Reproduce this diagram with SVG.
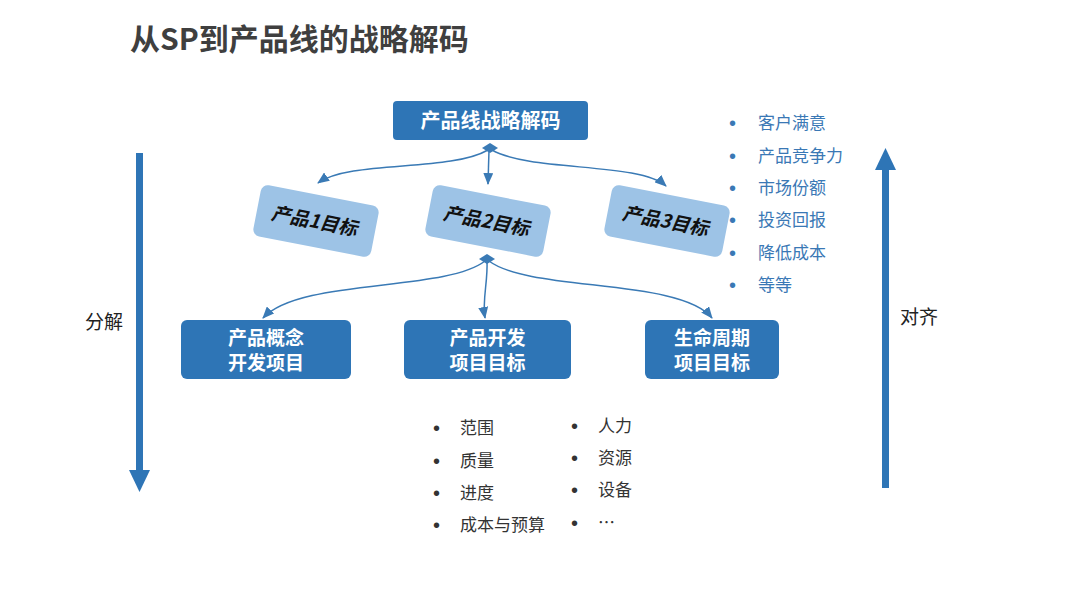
<svg xmlns="http://www.w3.org/2000/svg" width="1080" height="608" viewBox="0 0 1080 608">
<defs>
<style>
.title{font-family:"Noto Sans CJK SC","Liberation Sans",sans-serif;font-weight:700;font-size:30px;fill:#3f3f3f}
.dark{fill:#2e75b6}
.light{fill:#9dc3e6}
.wt{font-family:"Noto Sans CJK SC",sans-serif;font-weight:700;font-size:19px;fill:#fff;text-anchor:middle}
.it{font-family:"Noto Sans CJK SC",sans-serif;font-weight:700;font-size:19px;fill:#111;text-anchor:middle}
.lbl{font-family:"Noto Sans CJK SC",sans-serif;font-size:19px;fill:#222}
.blue{font-family:"Noto Sans CJK SC",sans-serif;font-size:17px;fill:#3a78b5}
.blk{font-family:"Noto Sans CJK SC",sans-serif;font-size:17px;fill:#333}
.bb{font-family:"Liberation Sans",sans-serif;font-size:20px}
.conn{fill:none;stroke:#3a7ab5;stroke-width:1.5}
.dia{fill:#3a7ab5}
</style>
<marker id="ah" markerUnits="userSpaceOnUse" markerWidth="12" markerHeight="10" viewBox="0 0 12 10" refX="11" refY="5" orient="auto">
<path d="M0,0 L12,5 L0,10 Z" fill="#3a7ab5"/>
</marker>
</defs>
<rect width="1080" height="608" fill="#fff"/>
<text class="title" x="130" y="50">从SP到产品线的战略解码</text>

<g id="connectors">
<path class="conn" d="M488,150 C450,172 350,160 318,183" marker-end="url(#ah)"/>
<path class="conn" d="M489,150 L488,184" marker-end="url(#ah)"/>
<path class="conn" d="M492,150 C530,172 640,162 666,186" marker-end="url(#ah)"/>
<polygon class="dia" points="490,143 498,148 490,153 482,148"/>
<path class="conn" d="M485,261 C445,292 300,278 263,318" marker-end="url(#ah)"/>
<path class="conn" d="M487,261 C488,282 482,300 485,318" marker-end="url(#ah)"/>
<path class="conn" d="M489,261 C530,292 680,278 712,318" marker-end="url(#ah)"/>
<polygon class="dia" points="487,254 495,259 487,264 479,259"/>
</g>

<g id="node-top">
<rect class="dark" x="393" y="101" width="195" height="39" rx="4"/>
<text class="wt" x="490.5" y="128" style="font-size:20px">产品线战略解码</text>
</g>

<g id="node-p1" transform="translate(316,221) rotate(11)">
<rect class="light" x="-60" y="-26" width="120" height="52" rx="7"/>
<text class="it" x="0" y="7" transform="skewX(-12)">产品1目标</text>
</g>
<g id="node-p2" transform="translate(488,221) rotate(11)">
<rect class="light" x="-60" y="-26" width="120" height="52" rx="7"/>
<text class="it" x="0" y="7" transform="skewX(-12)">产品2目标</text>
</g>
<g id="node-p3" transform="translate(667,221) rotate(11)">
<rect class="light" x="-60" y="-26" width="120" height="52" rx="7"/>
<text class="it" x="0" y="7" transform="skewX(-12)">产品3目标</text>
</g>

<g id="node-a">
<rect class="dark" x="181" y="320" width="170" height="59" rx="6"/>
<text class="wt" x="266" y="345">产品概念</text>
<text class="wt" x="266" y="370">开发项目</text>
</g>
<g id="node-b">
<rect class="dark" x="404" y="320" width="167" height="59" rx="6"/>
<text class="wt" x="487.5" y="345">产品开发</text>
<text class="wt" x="487.5" y="370">项目目标</text>
</g>
<g id="node-c">
<rect class="dark" x="645" y="320" width="134" height="59" rx="6"/>
<text class="wt" x="712" y="345">生命周期</text>
<text class="wt" x="712" y="370">项目目标</text>
</g>

<g id="arrow-down">
<rect x="136" y="153" width="7" height="320" fill="#2e75b6"/>
<polygon points="129,470 150,470 139.5,492" fill="#2e75b6"/>
</g>
<text class="lbl" x="85" y="329">分解</text>

<g id="arrow-up">
<rect x="882" y="168" width="7" height="320" fill="#2e75b6"/>
<polygon points="875,170 896,170 885.5,148" fill="#2e75b6"/>
</g>
<text class="lbl" x="900" y="324">对齐</text>

<g id="goals">
<text class="blue bb" x="729" y="130">•</text><text class="blue" x="758" y="129">客户满意</text>
<text class="blue bb" x="729" y="163">•</text><text class="blue" x="758" y="162">产品竞争力</text>
<text class="blue bb" x="729" y="195">•</text><text class="blue" x="758" y="194">市场份额</text>
<text class="blue bb" x="729" y="227">•</text><text class="blue" x="758" y="226">投资回报</text>
<text class="blue bb" x="729" y="260">•</text><text class="blue" x="758" y="259">降低成本</text>
<text class="blue bb" x="729" y="292">•</text><text class="blue" x="758" y="291">等等</text>
</g>

<g id="targets">
<text class="blk bb" x="433" y="435">•</text><text class="blk" x="460" y="434">范围</text>
<text class="blk bb" x="433" y="468">•</text><text class="blk" x="460" y="467">质量</text>
<text class="blk bb" x="433" y="500">•</text><text class="blk" x="460" y="499">进度</text>
<text class="blk bb" x="433" y="532">•</text><text class="blk" x="460" y="531">成本与预算</text>
<text class="blk bb" x="571" y="433">•</text><text class="blk" x="598" y="432">人力</text>
<text class="blk bb" x="571" y="465">•</text><text class="blk" x="598" y="464">资源</text>
<text class="blk bb" x="571" y="497">•</text><text class="blk" x="598" y="496">设备</text>
<text class="blk bb" x="571" y="530">•</text><text class="blk" x="598" y="529">…</text>
</g>
</svg>
